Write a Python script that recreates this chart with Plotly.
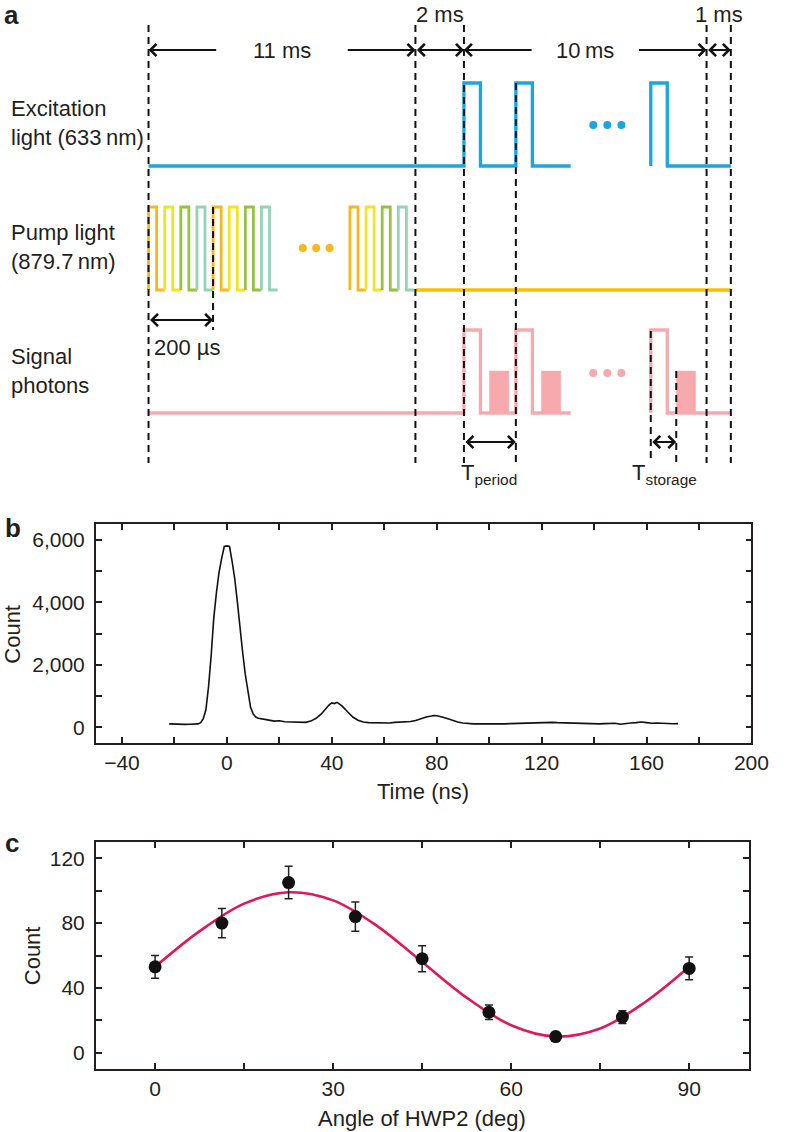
import plotly.graph_objects as go

W, H = 788, 1132
FONT = "Liberation Sans, Arial, Helvetica, sans-serif"
INK = "#231f20"

# ---------------- panel a : schematic timing sequence (ms) ----------------
seg_labels = ["11 ms", "2 ms", "10\u2009ms", "1 ms"]
seg_durations = [11, 2, 10, 1]
exc_pieces = [(0.0, [13.0, 15.14], 17.4), (20.7, [20.7], 24.0)]   # (start, pulse starts, end)
pulse_width = 0.68
stored_offset = 1.05
stored_width = 0.8
pump_block_starts = [0.0, 2.66, 8.30]
pump_block_width = 2.66          # one 200 µs block, drawn schematically
pump_colors = ["#f6b81a", "#f2e51e", "#95c33f", "#93d3b6"]
exc_dots = [18.33, 18.91, 19.49]
pump_dots = [6.36, 6.91, 7.46]

# ---------------- panel b : time histogram ----------------
time_ns = [-22, -20, -18, -16, -14, -12, -11, -10, -9, -8, -7, -6, -5, -4, -3, -2, -1, 0, 1, 2,
           3, 4, 5, 6, 7, 8, 9, 10, 11, 12, 14, 16, 18, 20, 22, 24, 26, 28, 30, 32,
           34, 36, 38, 39, 40, 41, 42, 43, 44, 46, 48, 50, 52, 54, 56, 58, 60, 62, 64, 66,
           68, 70, 72, 74, 76, 78, 79, 80, 81, 82, 84, 86, 88, 90, 92, 94, 96, 98, 100, 102,
           104, 106, 108, 110, 112, 114, 116, 118, 120, 122, 124, 126, 128, 130, 132, 134, 136, 138, 140, 142,
           144, 146, 148, 150, 152, 154, 156, 158, 160, 162, 164, 166, 168, 170, 172]
counts = [110, 100, 105, 95, 100, 105, 110, 150, 280, 560, 1300, 2300, 3500, 4300, 4950, 5400, 5780, 5800, 5780, 5300,
          4750, 4000, 3150, 2400, 1700, 1100, 650, 430, 330, 290, 250, 230, 200, 210, 180, 170, 175, 150, 160, 200,
          290, 430, 640, 720, 780, 760, 800, 740, 680, 500, 330, 230, 170, 150, 145, 140, 150, 140, 160, 170,
          190, 185, 220, 280, 330, 360, 380, 370, 360, 330, 280, 220, 170, 140, 120, 110, 115, 110, 105, 110,
          115, 110, 120, 125, 140, 150, 155, 160, 165, 170, 160, 150, 145, 140, 130, 120, 115, 100, 95, 110,
          120, 115, 130, 100, 125, 140, 150, 170, 150, 130, 140, 125, 120, 115, 120]

# ---------------- panel c : polarisation dependence ----------------
angle_deg = [0, 11.25, 22.5, 33.75, 45, 56.25, 67.5, 78.75, 90]
count_c = [53, 80, 105, 84, 58, 25, 10, 22, 52]
err_c = [7, 9, 10, 9, 8, 4.5, 2.5, 4, 7]
fit_angle = [0, 7.5, 15, 22.5, 30, 37.5, 45, 52.5, 60, 67.5, 75, 82.5, 90]
fit_count = [53, 75, 92, 99, 94, 78, 56, 34, 17, 10, 15, 31, 53]

# ---------------- geometry helpers ----------------
def px(x):
    return x / W

def py(y):
    return 1 - y / H

PX_PER_MS = 24.83
X0_PX = 152
row_base = {"exc": 166, "pump": 290, "sig": 413}
pulse_h = 83
stored_h = 42

boundaries = [0]
for d in seg_durations:
    boundaries.append(boundaries[-1] + d)

fig = go.Figure()

def piece_xy(start, pulses, end, base, h):
    xs, ys = [start], [base]
    for p in pulses:
        xs += [p, p, p + pulse_width, p + pulse_width]
        ys += [base, base - h, base - h, base]
    xs.append(end)
    ys.append(base)
    return xs, ys

# excitation light
for st, pulses, en in exc_pieces:
    xs, ys = piece_xy(st, pulses, en, row_base["exc"], pulse_h)
    fig.add_trace(go.Scatter(x=xs, y=ys, mode="lines", xaxis="x3", yaxis="y3",
                             line=dict(color="#1aa7e1", width=3.3), hoverinfo="skip"))
fig.add_trace(go.Scatter(x=exc_dots, y=[125] * 3, mode="markers", xaxis="x3", yaxis="y3",
                         marker=dict(color="#1aa7e1", size=8), hoverinfo="skip"))

# pump light
sub_w = pump_block_width / len(pump_colors)
for b0 in pump_block_starts:
    for i, c in enumerate(pump_colors):
        t0 = b0 + i * sub_w
        base = row_base["pump"]
        xs = [t0, t0, t0 + sub_w / 2, t0 + sub_w / 2, t0 + sub_w]
        ys = [base, base - pulse_h, base - pulse_h, base, base]
        fig.add_trace(go.Scatter(x=xs, y=ys, mode="lines", xaxis="x3", yaxis="y3",
                                 line=dict(color=c, width=2.8), hoverinfo="skip"))
fig.add_trace(go.Scatter(x=[boundaries[1], boundaries[-1]], y=[row_base["pump"]] * 2, mode="lines",
                         xaxis="x3", yaxis="y3", line=dict(color="#f6c000", width=3.3), hoverinfo="skip"))
fig.add_trace(go.Scatter(x=pump_dots, y=[248] * 3, mode="markers", xaxis="x3", yaxis="y3",
                         marker=dict(color="#f6b81a", size=8), hoverinfo="skip"))

# signal photons
PINK = "#f6aaae"
sig_pieces = [(0.0, [13.0, 15.14], 17.4), (20.7, [20.7], 24.0)]
for st, pulses, en in sig_pieces:
    for p in pulses:
        s0 = p + stored_offset
        base = row_base["sig"]
        fig.add_trace(go.Scatter(x=[s0, s0, s0 + stored_width, s0 + stored_width, s0],
                                 y=[base, base - stored_h, base - stored_h, base, base],
                                 mode="lines", fill="toself", fillcolor=PINK, xaxis="x3", yaxis="y3",
                                 line=dict(color=PINK, width=0.5), hoverinfo="skip"))
    xs, ys = piece_xy(st, pulses, en, row_base["sig"], pulse_h)
    fig.add_trace(go.Scatter(x=xs, y=ys, mode="lines", xaxis="x3", yaxis="y3",
                             line=dict(color=PINK, width=3.3), hoverinfo="skip"))
fig.add_trace(go.Scatter(x=exc_dots, y=[373] * 3, mode="markers", xaxis="x3", yaxis="y3",
                         marker=dict(color=PINK, size=8), hoverinfo="skip"))

# dashed guide lines (time, top, bottom)
last_pulse = exc_pieces[1][1][0]
dashed = [(b, 25, 463) for b in boundaries]
dashed += [(exc_pieces[0][1][1], 83, 463), (pump_block_width, 207, 330),
           (last_pulse, 331, 463), (last_pulse + stored_offset, 371, 463)]
dx, dy = [], []
for t, y0, y1 in dashed:
    dx += [t, t, None]
    dy += [y0, y1, None]
fig.add_trace(go.Scatter(x=dx, y=dy, mode="lines", xaxis="x3", yaxis="y3",
                         line=dict(color="#111111", width=2, dash="7px,5px"), hoverinfo="skip"))

annotations = []

def arrow(x_head, x_tail, y, double=False):
    d = dict(x=x_head, y=y, ax=x_tail, ay=y, xref="x3", yref="y3", axref="x3", ayref="y3",
             text="", showarrow=True, arrowhead=4, arrowsize=1.3, arrowwidth=1.8,
             arrowcolor="#111111", standoff=0, startstandoff=0)
    if double:
        d.update(arrowside="end+start", startarrowhead=4, startarrowsize=1.3)
    annotations.append(d)

def label(txt, x, y, size=22, xref="x3", yref="y3", xanchor="center", **kw):
    annotations.append(dict(x=x, y=y, xref=xref, yref=yref, text=txt, showarrow=False,
                            xanchor=xanchor, yanchor="middle",
                            font=dict(size=size, color=INK, family=FONT), **kw))

# top duration arrows
label_gap = [2.65, 0, 2.15, 0]
for i, (lab, g) in enumerate(zip(seg_labels, label_gap)):
    a, b = boundaries[i], boundaries[i + 1]
    mid = (a + b) / 2
    if g > 0:
        arrow(a, mid - g, 50)
        arrow(b, mid + g, 50)
        label(lab, mid, 50)
    else:
        arrow(b, a, 50, double=True)
        label(lab, mid, 14)

arrow(pump_block_width, 0, 320, double=True)
arrow(exc_pieces[0][1][1], exc_pieces[0][1][0], 442, double=True)
arrow(last_pulse + stored_offset, last_pulse, 442, double=True)

def ms_of(xpx):
    return (xpx - X0_PX) / PX_PER_MS

for txt, xl, yc in [("Excitation<br>light (633\u2009nm)", 9, 123),
                    ("Pump light<br>(879.7\u2009nm)", 9, 247),
                    ("Signal<br>photons", 9, 371)]:
    label(txt, px(xl), py(yc), xref="paper", yref="paper", xanchor="left", align="left")
label("200 \u00b5s", ms_of(156), 347, xanchor="left")
label("T<sub>period</sub>", ms_of(470), 474, xanchor="left")
label("T<sub>storage</sub>", ms_of(645), 474, xanchor="left")

# panel letters
for letter, xc, yc in [("a", 12, 15), ("b", 13, 528), ("c", 12, 843)]:
    label("<b>%s</b>" % letter, px(xc), py(yc), size=26, xref="paper", yref="paper")

# ---------------- panel b ----------------
fig.add_trace(go.Scatter(x=time_ns, y=counts, mode="lines", xaxis="x", yaxis="y",
                         line=dict(color="#111111", width=1.6), hoverinfo="skip"))

# ---------------- panel c ----------------
fig.add_trace(go.Scatter(x=fit_angle, y=fit_count, mode="lines", xaxis="x2", yaxis="y2",
                         line=dict(color="#e0185a", width=2.6, shape="spline", smoothing=1.0),
                         hoverinfo="skip"))
fig.add_trace(go.Scatter(x=angle_deg, y=count_c, mode="markers", xaxis="x2", yaxis="y2",
                         marker=dict(color="#111111", size=13),
                         error_y=dict(type="data", array=err_c, color="#222222", thickness=1.5, width=4),
                         hoverinfo="skip"))

# axis titles
for txt, xc, yc, ang in [("Count", 12, 634, -90), ("Time (ns)", 433, 791, 0),
                         ("Count", 33, 956, -90), ("Angle of HWP2 (deg)", 432, 1118, 0)]:
    label(txt, px(xc), py(yc), xref="paper", yref="paper", textangle=ang)

axis_common = dict(showline=True, linecolor=INK, linewidth=1.5, mirror="ticks", ticks="inside",
                   ticklen=6, tickwidth=1.5, tickcolor=INK, showgrid=False, zeroline=False,
                   tickfont=dict(size=21, color=INK, family=FONT), fixedrange=True)

fig.update_layout(
    width=W, height=H, margin=dict(l=0, r=0, t=0, b=0),
    paper_bgcolor="white", plot_bgcolor="white", showlegend=False,
    font=dict(family=FONT, color=INK),
    xaxis=dict(domain=[px(98), px(769)], anchor="y", range=[-50, 200],
               tickvals=[-40, 0, 40, 80, 120, 160, 200], ticklabelstandoff=0,
               minor=dict(tickvals=[-20, 20, 60, 100, 140, 180], ticks="inside", ticklen=6,
                          tickwidth=1.5, tickcolor=INK), **axis_common),
    yaxis=dict(domain=[py(743), py(524)], anchor="x", range=[-500, 6500],
               tickvals=[0, 2000, 4000, 6000], tickformat=",", ticklabelstandoff=5,
               minor=dict(tickvals=[1000, 3000, 5000], ticks="inside", ticklen=6,
                          tickwidth=1.5, tickcolor=INK), **axis_common),
    xaxis2=dict(domain=[px(98), px(766)], anchor="y2", range=[-10, 100],
                tickvals=[0, 30, 60, 90], ticklabelstandoff=0,
                minor=dict(tickvals=[15, 45, 75], ticks="inside", ticklen=6,
                           tickwidth=1.5, tickcolor=INK), **axis_common),
    yaxis2=dict(domain=[py(1069), py(842)], anchor="x2", range=[-10, 130],
                tickvals=[0, 40, 80, 120], ticklabelstandoff=5,
                minor=dict(tickvals=[20, 60, 100], ticks="inside", ticklen=6,
                           tickwidth=1.5, tickcolor=INK), **axis_common),
    xaxis3=dict(domain=[0, 1], anchor="y3", range=[ms_of(0), ms_of(W)], visible=False, fixedrange=True),
    yaxis3=dict(domain=[py(500), 1], anchor="x3", range=[500, 0], visible=False, fixedrange=True),
    annotations=annotations,
)

fig.write_html("out.html", config={"displayModeBar": False},
               post_script="document.body.style.margin='0px';document.body.style.padding='0px';")
